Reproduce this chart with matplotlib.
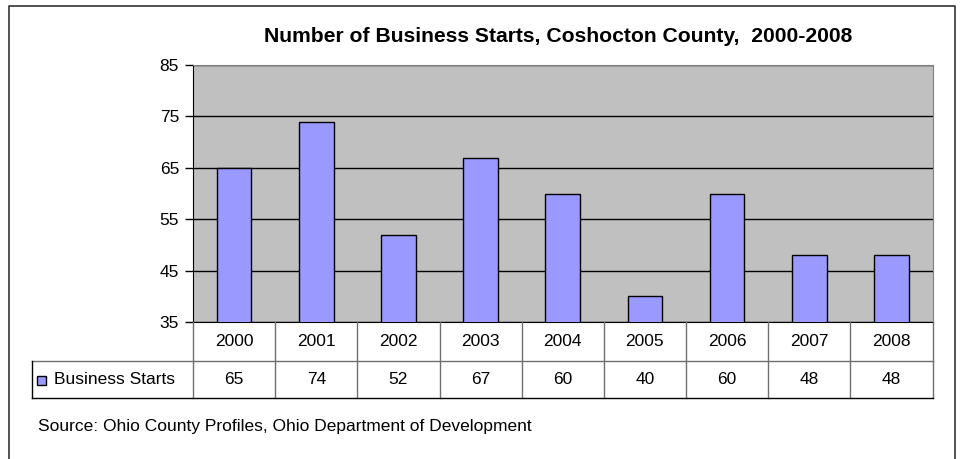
import matplotlib.pyplot as plt
from matplotlib.lines import Line2D
from matplotlib.patches import Rectangle

years = ['2000', '2001', '2002', '2003', '2004', '2005', '2006', '2007', '2008']
starts = [65, 74, 52, 67, 60, 40, 60, 48, 48]
series_name = 'Business Starts'
title = 'Number of Business Starts, Coshocton County,  2000-2008'
source = 'Source: Ohio County Profiles, Ohio Department of Development'

plt.rcParams['font.family'] = ['Liberation Sans', 'DejaVu Sans']

W, H = 963, 459
fig = plt.figure(figsize=(W / 100, H / 100), dpi=100)


def fx(px):
    return px / W


def fy(py):
    return 1 - py / H


# plot area in pixels
L, R, T, B = 193, 932.5, 65, 322
ax = fig.add_axes([fx(L), fy(B), fx(R - L), (B - T) / H])
ax.set_facecolor('#c0c0c0')

x = range(len(years))
ax.bar(x, starts, width=0.42, color='#9999ff', edgecolor='black', linewidth=1, zorder=3)
ax.set_ylim(35, 85)
ax.set_xlim(-0.5, len(years) - 0.5)
ax.set_yticks(range(35, 86, 10))
ax.yaxis.grid(True, color='black', linewidth=1, zorder=1)
ax.set_axisbelow(True)
ax.set_xticks([])
ax.tick_params(axis='y', direction='out', length=6, width=1, labelsize=12.5, pad=4)
for s in ['top', 'right']:
    ax.spines[s].set_color('#808080')
ax.spines['bottom'].set_color('black')
ax.spines['left'].set_color('black')

# data table under the plot
row1_bot, row2_bot = 361, 398
leg_left = 32
n = len(years)
cw = (R - L) / n
lc = '#707070'
fs = 12.5
for i in range(n + 1):
    xx = L + i * cw
    fig.add_artist(Line2D([fx(xx)] * 2, [fy(B), fy(row2_bot)], color=lc, lw=1))
fig.add_artist(Line2D([fx(leg_left), fx(R)], [fy(row1_bot)] * 2, color=lc, lw=1))
fig.add_artist(Line2D([fx(leg_left), fx(R)], [fy(row2_bot)] * 2, color='black', lw=1))
fig.add_artist(Line2D([fx(leg_left)] * 2, [fy(row1_bot), fy(row2_bot)], color='black', lw=1))

for i, (yr, v) in enumerate(zip(years, starts)):
    cx = L + (i + 0.5) * cw
    fig.text(fx(cx), fy((B + row1_bot) / 2), yr, ha='center', va='center', fontsize=fs)
    fig.text(fx(cx), fy((row1_bot + row2_bot) / 2), str(v), ha='center', va='center', fontsize=fs)

# legend key in the table
fig.add_artist(Rectangle((fx(37), fy(385)), fx(9), 9 / H, facecolor='#9999ff',
                         edgecolor='black', lw=1))
fig.text(fx(54), fy((row1_bot + row2_bot) / 2), series_name, ha='left', va='center', fontsize=fs)

fig.text(fx(558), fy(37), title, ha='center', va='center', fontsize=15.2, fontweight='bold')
fig.text(fx(38), fy(427), source, ha='left', va='center', fontsize=12.5)

# outer chart border (bottom runs off the image)
fig.add_artist(Line2D([fx(9), fx(9), fx(955), fx(955)], [0, fy(6), fy(6), 0], color='#333333', lw=1.2))

fig.savefig('out.png', dpi=100)
